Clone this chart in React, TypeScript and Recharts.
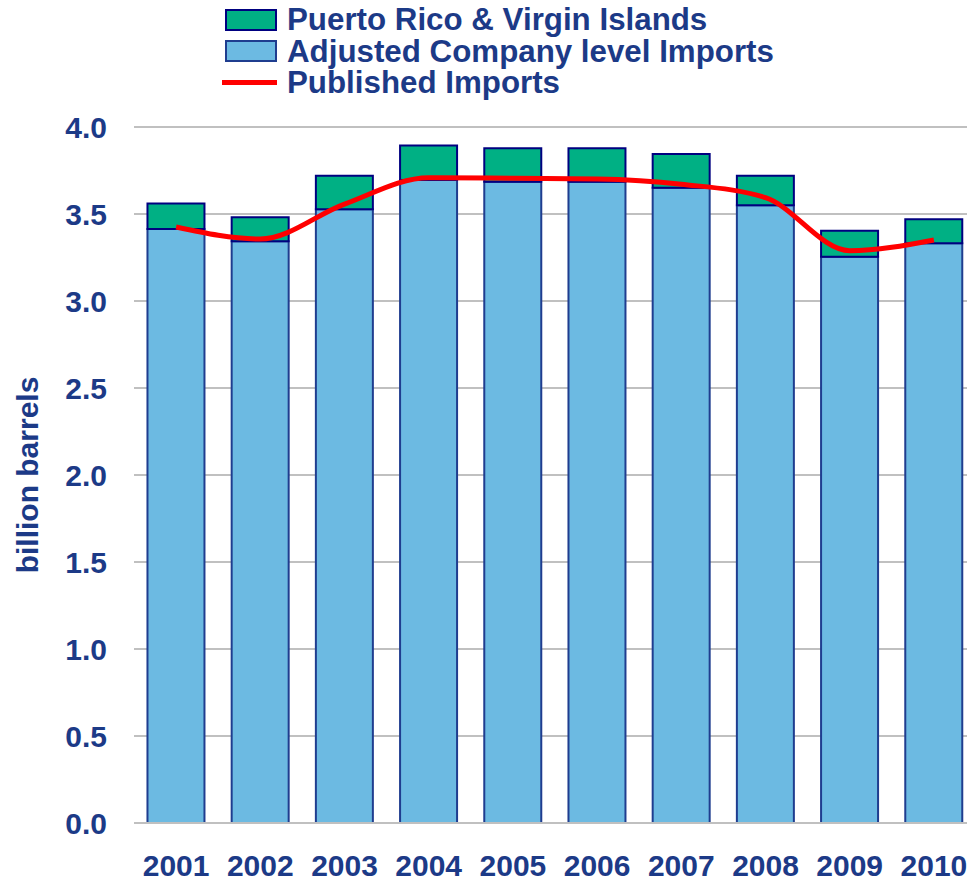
import React from "react";
import {
  ComposedChart,
  Bar,
  Line,
  XAxis,
  YAxis,
  CartesianGrid,
  Legend,
} from "recharts";

const YEARS = ["2001", "2002", "2003", "2004", "2005", "2006", "2007", "2008", "2009", "2010"];
const ADJUSTED = [3.414, 3.343, 3.527, 3.695, 3.686, 3.686, 3.651, 3.55, 3.255, 3.332];
const PUERTO_RICO = [0.147, 0.138, 0.193, 0.198, 0.192, 0.192, 0.194, 0.17, 0.149, 0.138];
const PUBLISHED = [3.425, 3.356, 3.557, 3.709, 3.705, 3.701, 3.671, 3.594, 3.289, 3.351];
const Y_TICKS = [0, 0.5, 1, 1.5, 2, 2.5, 3, 3.5, 4];

const TEXT = "#1c3a87";
const FONT = "'Liberation Sans', Arial, sans-serif";
const GREEN = "#00b084";
const BLUE = "#6cbae2";
const RED = "#ff0000";

const data = YEARS.map((year, i) => ({
  year,
  adjusted: ADJUSTED[i],
  puertoRico: PUERTO_RICO[i],
  published: PUBLISHED[i],
}));

const LEGEND_ROWS = [
  { label: "Puerto Rico & Virgin Islands", kind: "box", fill: GREEN, border: "#000080" },
  { label: "Adjusted Company level Imports", kind: "box", fill: BLUE, border: "#1f3d8f" },
  { label: "Published Imports", kind: "line", fill: RED, border: RED },
];

function ChartLegend() {
  return (
    <div style={{ fontFamily: FONT, fontWeight: "bold", fontSize: 31.3, color: TEXT }}>
      {LEGEND_ROWS.map((row) => (
        <div
          key={row.label}
          style={{ display: "flex", alignItems: "center", height: 31.5, whiteSpace: "nowrap" }}
        >
          <div style={{ width: 65, display: "flex", alignItems: "center" }}>
            {row.kind === "box" ? (
              <div
                style={{
                  marginLeft: 3,
                  width: 48,
                  height: 18,
                  background: row.fill,
                  border: `2px solid ${row.border}`,
                }}
              />
            ) : (
              <div style={{ width: 55, height: 5, background: row.fill }} />
            )}
          </div>
          <span style={{ lineHeight: 1 }}>{row.label}</span>
        </div>
      ))}
    </div>
  );
}

export default function App() {
  return (
    <div
      style={{
        position: "absolute",
        left: 0,
        top: 0,
        width: 967,
        height: 884,
        overflow: "hidden",
        background: "#fff",
      }}
    >
      <ComposedChart
        width={980}
        height={884}
        data={data}
        margin={{ top: 127, right: 4, bottom: 0, left: 0 }}
        barCategoryGap="16%"
      >
        <CartesianGrid vertical={false} stroke="#c0c0c0" strokeWidth={2} />
        <XAxis
          dataKey="year"
          height={61}
          axisLine={{ stroke: "#c0c0c0", strokeWidth: 2 }}
          tickLine={false}
          tickSize={0}
          tickMargin={32}
          interval={0}
          tick={{ fill: TEXT, fontSize: 30, fontWeight: "bold", fontFamily: FONT }}
        />
        <YAxis
          width={134}
          domain={[0, 4]}
          ticks={Y_TICKS}
          allowDataOverflow
          axisLine={false}
          tickLine={false}
          tickSize={0}
          tickMargin={27}
          tickFormatter={(v: number) => v.toFixed(1)}
          tick={{ fill: TEXT, fontSize: 30, fontWeight: "bold", fontFamily: FONT }}
          label={{
            value: "billion barrels",
            angle: -90,
            position: "insideLeft",
            offset: 27,
            style: {
              textAnchor: "middle",
              fill: TEXT,
              fontSize: 30,
              fontWeight: "bold",
              fontFamily: FONT,
            },
          }}
        />
        <Legend
          verticalAlign="top"
          align="left"
          content={() => <ChartLegend />}
          wrapperStyle={{ top: 4, left: 222, width: 700, height: 0, overflow: "visible" }}
        />
        <Bar
          dataKey="adjusted"
          stackId="imports"
          fill={BLUE}
          stroke="#1f3d8f"
          strokeWidth={2}
          isAnimationActive={false}
        />
        <Bar
          dataKey="puertoRico"
          stackId="imports"
          fill={GREEN}
          stroke="#000080"
          strokeWidth={2}
          isAnimationActive={false}
        />
        <Line
          dataKey="published"
          type="monotone"
          stroke={RED}
          strokeWidth={5}
          dot={false}
          isAnimationActive={false}
        />
      </ComposedChart>
    </div>
  );
}
